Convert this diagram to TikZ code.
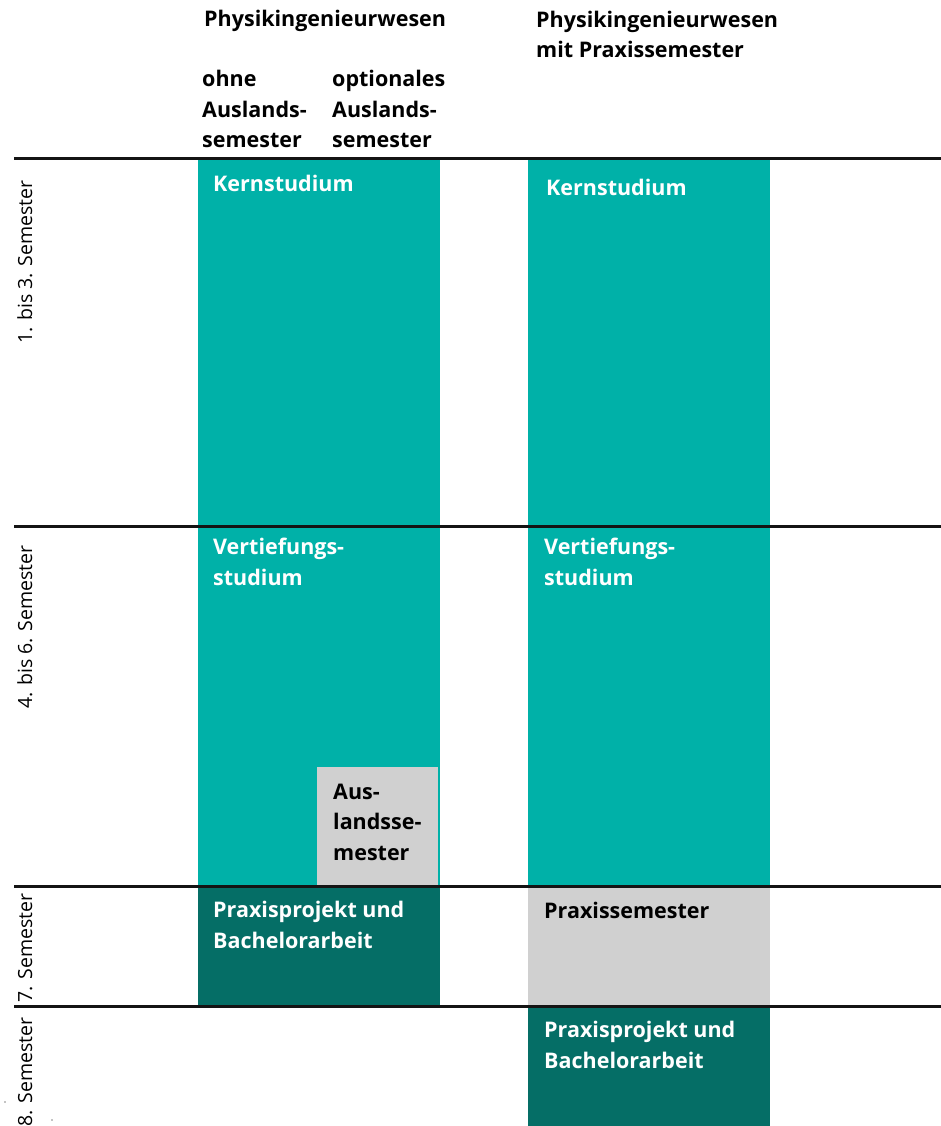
\documentclass[tikz,border=0pt]{standalone}
\usepackage{fontspec}
\setmainfont{Open Sans}
\newfontfamily\sidefont{Open Sans}
\usetikzlibrary{positioning}
\definecolor{hmteal}{RGB}{0,177,168}
\definecolor{hmdark}{RGB}{5,110,102}
\definecolor{hmgrey}{RGB}{208,208,208}
\tikzset{
  head/.style={anchor=base west, inner sep=0pt, align=left, font=\fontsize{21.5}{30.5}\selectfont\bfseries},
  inbox/.style={head, text=white},
  side/.style={rotate=90, anchor=base, inner sep=0pt, font=\fontsize{19.5}{22}\sidefont},
  rule/.style={line width=3pt, color=black!92}
}
\begin{document}
\begin{tikzpicture}[x=1pt,y=-1pt]
  \useasboundingbox (0,0) rectangle (941,1126);
  \fill[hmteal] (198,159) rectangle (440,886);
  \fill[hmgrey] (317,767) rectangle (438,886);
  \fill[hmdark] (198,886) rectangle (440,1006);
  \fill[hmteal] (528,159) rectangle (770,886);
  \fill[hmgrey] (528,886) rectangle (770,1006);
  \fill[hmdark] (528,1006) rectangle (770,1126);

  \draw[rule] (14,159) -- (941,159);
  \draw[rule] (14,526) -- (941,526);
  \draw[rule] (14,886) -- (941,886);
  \draw[rule] (14,1006) -- (941,1006);

  \node[head] (pi) at (204,27) {Physikingenieurwesen};
  \node[head] (ohne) at (202,148) {ohne\\Auslands-\\semester};
  \node[head] (opt) at (332,148) {optionales\\Auslands-\\semester};
  \node[head] (pip) at (536,58) {Physikingenieurwesen\\mit Praxissemester};

  \node[inbox] (kern1) at (213,192) {Kernstudium};
  \node[inbox] (kern2) at (546,196) {Kernstudium};
  \node[inbox] (vert1) at (213,585) {Vertiefungs-\\studium};
  \node[inbox] (vert2) at (544,585) {Vertiefungs-\\studium};
  \node[head] (ausl) at (333,860) {Aus-\\landsse-\\mester};
  \node[inbox] (bach1) at (213,948) {Praxisprojekt und\\Bachelorarbeit};
  \node[head] (prax) at (544,918) {Praxissemester};
  \node[inbox] (bach2) at (544,1068) {Praxisprojekt und\\Bachelorarbeit};

  \node[side] (s1) at (32,262) {1. bis 3. Semester};
  \node[side] (s2) at (32,627) {4. bis 6. Semester};
  \node[side] (s7) at (32,948) {7. Semester};
  \node[side] (s8) at (32,1072) {8. Semester};

  \fill (5,1102) circle (0.7);
  \fill (52,1120) circle (0.7);
\end{tikzpicture}
\end{document}
